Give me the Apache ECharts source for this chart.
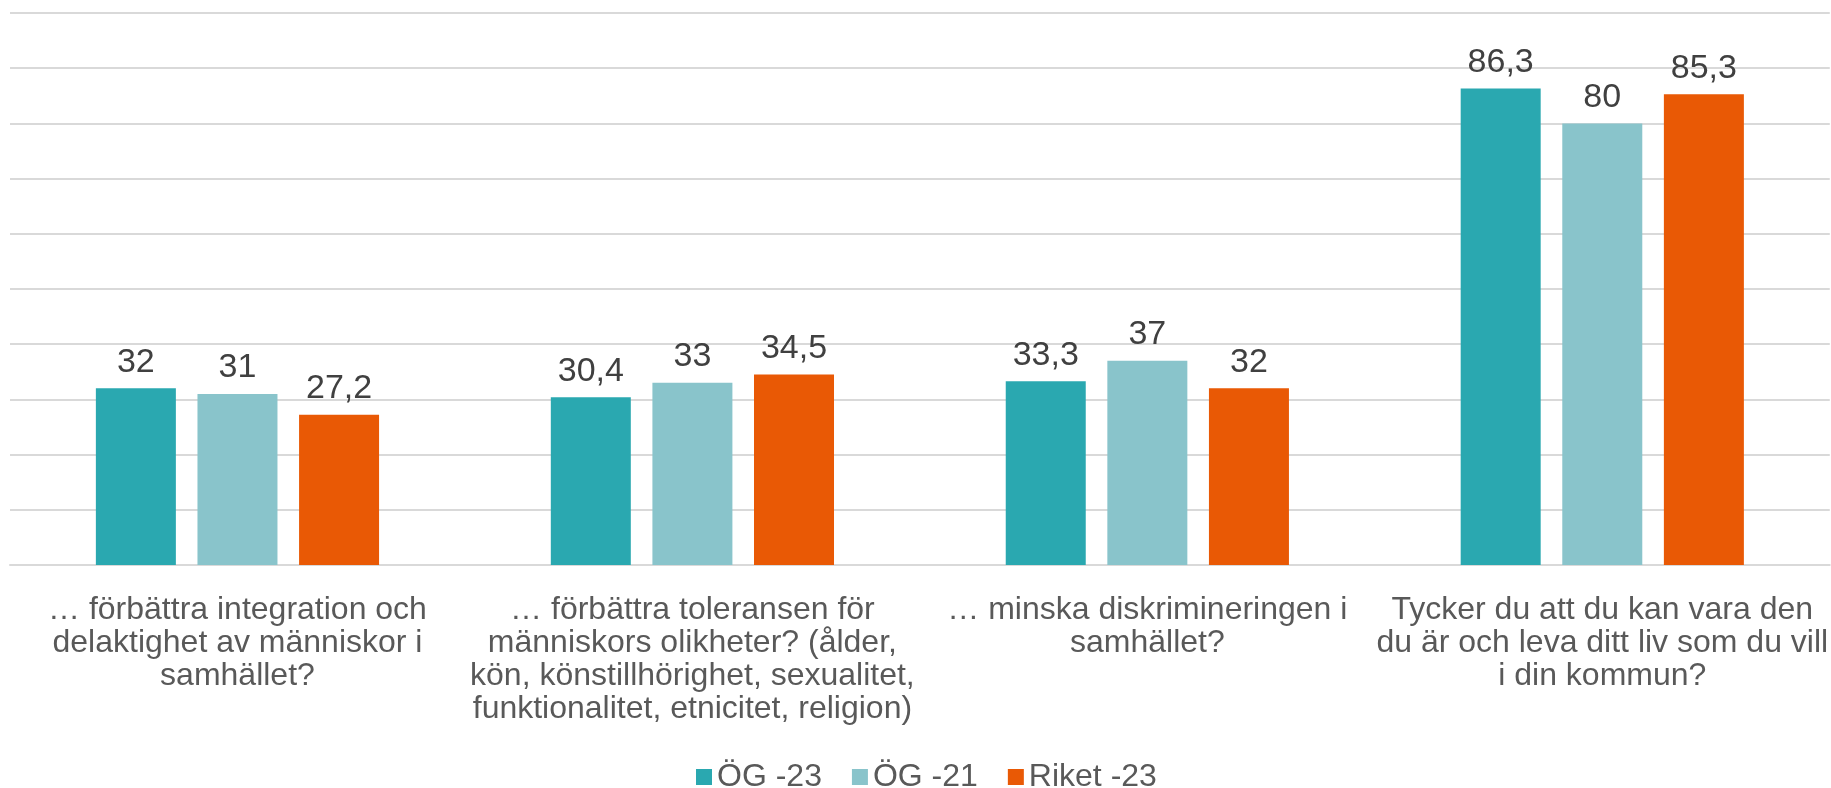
<!DOCTYPE html>
<html>
<head>
<meta charset="utf-8">
<script src="https://cdn.jsdelivr.net/npm/echarts@6/dist/echarts.min.js"></script>
<style>
html, body { margin: 0; padding: 0; background: #ffffff; }
#chart_a { width: 1831px; height: 788px; }
</style>
</head>
<body>
<div id="chart_a"></div>
<script>
// frågor (kategorier)
var categories = [
	"… förbättra integration och\ndelaktighet av människor i\nsamhället?",
	"… förbättra toleransen för\nmänniskors olikheter? (ålder,\nkön, könstillhörighet, sexualitet,\nfunktionalitet, etnicitet, religion)",
	"… minska diskrimineringen i\nsamhället?",
	"Tycker du att du kan vara den\ndu är och leva ditt liv som du vill\ni din kommun?"
];
var seriesNames = ["ÖG -23", "ÖG -21", "Riket -23"];
var og23 = [32, 30.4, 33.3, 86.3];
var og21 = [31, 33, 37, 80];
var riket23 = [27.2, 34.5, 32, 85.3];

(function(){
	var fontFam = 'Arial, "Liberation Sans", sans-serif';
	var mychart1 = echarts.init(document.getElementById('chart_a'));

	function barSeries(name, data) {
		return {
			name : name,
			type : 'bar',
			barWidth : 80,
			barGap : '27%',
			data : data,
			label : {
				show : true,
				position : 'top',
				distance : 9,
				color : '#404040',
				fontSize : 34,
				fontFamily : fontFam,
				formatter : function(p){
					return String(p.value).replace('.', ',');
				}
			}
		};
	}

	var option1 = {
		animation : false,
		color : ["#2AA8B0", "#89C4CB", "#E95905"],
		grid : {
			left : 10,
			right : 0,
			top : 13,
			bottom : 223,
			containLabel : false
		},
		legend : {
			data : seriesNames,
			left : 691,
			top : 756,
			icon : 'rect',
			itemWidth : 16,
			itemHeight : 16,
			itemGap : 30,
			textStyle : {
				color : '#595959',
				fontSize : 32,
				fontFamily : fontFam
			}
		},
		xAxis : {
			type : 'category',
			data : categories,
			axisTick : { show : false },
			axisLine : {
				lineStyle : { color : '#D9D9D9', width : 2 }
			},
			axisLabel : {
				interval : 0,
				margin : 29,
				color : '#595959',
				fontSize : 32,
				lineHeight : 33,
				fontFamily : fontFam,
				align : 'center'
			}
		},
		yAxis : {
			type : 'value',
			min : 0,
			max : 100,
			interval : 10,
			axisLabel : { show : false },
			axisLine : { show : false },
			axisTick : { show : false },
			splitLine : {
				show : true,
				lineStyle : { color : '#D9D9D9', width : 2 }
			}
		},
		series : [
			barSeries(seriesNames[0], og23),
			barSeries(seriesNames[1], og21),
			barSeries(seriesNames[2], riket23)
		]
	};
	mychart1.setOption(option1, true);
})();
</script>
</body>
</html>
